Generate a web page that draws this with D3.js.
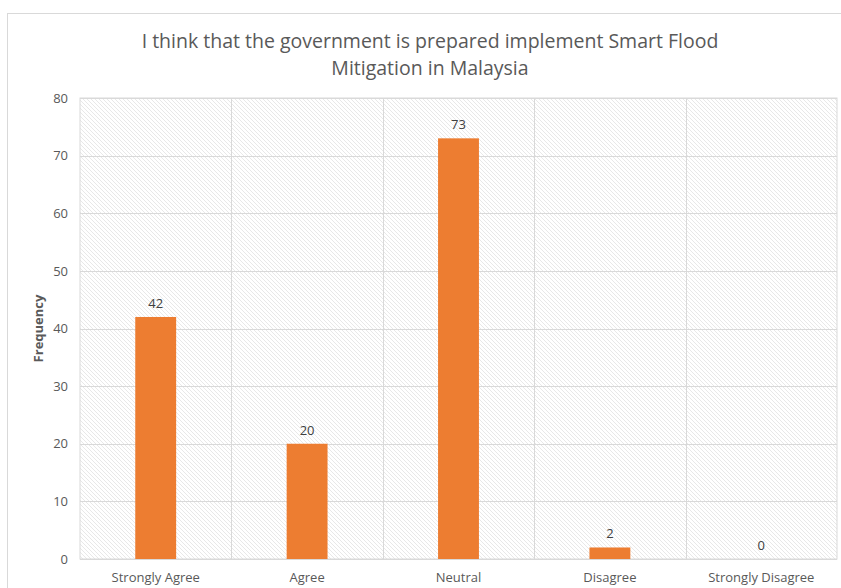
<!DOCTYPE html>
<html><head><meta charset="utf-8">
<script src="https://cdn.jsdelivr.net/npm/d3@7/dist/d3.min.js"></script>
<style>body{margin:0;background:#fff;}svg{display:block;}</style>
</head><body>
<svg id="c" width="841" height="588"></svg>
<script>
const categories = ["Strongly Agree","Agree","Neutral","Disagree","Strongly Disagree"];
const values = [42,20,73,2,0];
const yTicks = [0,10,20,30,40,50,60,70,80];
const titleLines = ["I think that the government is prepared implement Smart Flood","Mitigation in Malaysia"];
const yLabel = "Frequency";

const svg = d3.select("#c");
const font = "'Liberation Sans Narrow','Open Sans',sans-serif";
const m = {l:80, r:837, t:98, b:559};

// outer chart border
svg.append("rect").attr("x",7.5).attr("y",13.5).attr("width",845).attr("height",590)
  .attr("fill","#fff").attr("stroke","#d9d9d9");

const defs = svg.append("defs");
const pat = defs.append("pattern").attr("id","hatch").attr("patternUnits","userSpaceOnUse")
  .attr("width",4).attr("height",4);
pat.append("rect").attr("width",4).attr("height",4).attr("fill","#fff");
pat.append("path").attr("d","M-1,-1 L5,5 M-1,3 L1,5 M3,-1 L5,1").attr("stroke","#e8e8e8").attr("stroke-width",1);

const x = d3.scaleBand().domain(categories).range([m.l,m.r]).paddingInner(0).paddingOuter(0);
const y = d3.scaleLinear().domain([0,80]).range([m.b,m.t]);

svg.append("rect").attr("x",m.l).attr("y",m.t).attr("width",m.r-m.l).attr("height",m.b-m.t)
  .attr("fill","url(#hatch)").attr("stroke","#d9d9d9");

// horizontal gridlines
svg.append("g").selectAll("line").data(yTicks).join("line")
  .attr("x1",m.l).attr("x2",m.r).attr("y1",d=>Math.round(y(d))+0.5).attr("y2",d=>Math.round(y(d))+0.5)
  .attr("stroke","#d9d9d9");
// vertical gridlines between categories
svg.append("g").selectAll("line").data(categories.slice(1)).join("line")
  .attr("x1",d=>Math.round(x(d))+0.5).attr("x2",d=>Math.round(x(d))+0.5).attr("y1",m.t).attr("y2",m.b)
  .attr("stroke","#d9d9d9");

// y axis labels
const yAxis = d3.axisLeft(y).tickValues(yTicks).tickSize(0).tickPadding(0);
const ga = svg.append("g").attr("transform",`translate(${m.l-12},0)`).call(yAxis);
ga.select(".domain").remove();
ga.selectAll("text").attr("font-family",font).attr("font-size",13).attr("fill","#595959");

// x axis labels
const xAxis = d3.axisBottom(x).tickSize(0).tickPadding(0);
const gx = svg.append("g").attr("transform",`translate(0,${m.b+14})`).call(xAxis);
gx.select(".domain").remove();
gx.selectAll("text").attr("font-family",font).attr("font-size",13).attr("fill","#595959");

// bars
const bw = x.bandwidth()*0.27;
svg.append("g").selectAll("rect").data(values).join("rect")
  .attr("x",(d,i)=>x(categories[i])+x.bandwidth()/2-bw/2)
  .attr("width",bw)
  .attr("y",d=>y(d)).attr("height",d=>y(0)-y(d))
  .attr("fill","#ed7d31");

// value labels
svg.append("g").selectAll("text").data(values).join("text")
  .attr("x",(d,i)=>x(categories[i])+x.bandwidth()/2)
  .attr("y",d=>y(d)-9)
  .attr("text-anchor","middle").attr("font-family",font).attr("font-size",13).attr("fill","#404040")
  .text(d=>d);

// title
svg.append("g").selectAll("text").data(titleLines).join("text")
  .attr("x",430).attr("y",(d,i)=>48+i*27)
  .attr("text-anchor","middle").attr("font-family",font).attr("font-size",19.5).attr("fill","#595959")
  .text(d=>d);

// y label
svg.append("text").attr("transform",`translate(43,${(m.t+m.b)/2}) rotate(-90)`)
  .attr("text-anchor","middle").attr("font-family",font).attr("font-size",13).attr("font-weight","bold")
  .attr("fill","#595959").text(yLabel);
</script>
</body></html>
